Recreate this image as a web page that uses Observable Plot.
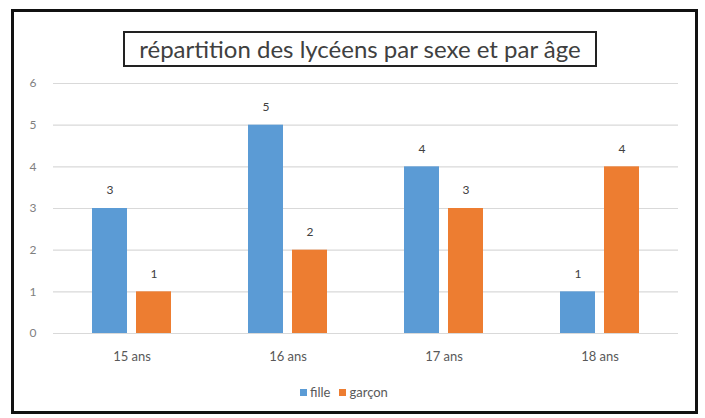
<!DOCTYPE html>
<html><head><meta charset="utf-8">
<script src="https://cdn.jsdelivr.net/npm/d3@7"></script>
<script src="https://cdn.jsdelivr.net/npm/@observablehq/plot@0.6"></script>
<style>
body{margin:0;background:#fff;font-family:Lato,sans-serif;}
#frame{position:absolute;left:11px;top:9px;width:687px;height:405px;border:3px solid #111;box-sizing:border-box;}
#title{position:absolute;left:123px;top:31px;width:474px;height:36px;border:2px solid #222;box-sizing:border-box;text-align:center;font-size:24px;line-height:31px;color:#404040;white-space:nowrap;}
#chart{position:absolute;left:0;top:70px;}
#legend{position:absolute;top:384px;left:300px;display:flex;align-items:center;font-size:13px;color:#595959;}
#legend .sw{display:inline-block;width:7px;height:7px;margin-right:3px;}
#legend .it{display:flex;align-items:center;margin-right:9px;}
</style>
</head><body>
<div id="frame"></div>
<div id="title">répartition des lycéens par sexe et par âge</div>
<div id="chart"></div>
<div id="legend"></div>
<script>
const ages = ["15 ans","16 ans","17 ans","18 ans"];
const fille = [3,5,4,1];
const garcon = [1,2,3,4];
const series = ["fille","garçon"];
const colors = ["#5B9BD5","#ED7D31"];
const yTicks = [0,1,2,3,4,5,6];

const rowsF = ages.map((a,i)=>({age:a, sexe:series[0], v:fille[i]}));
const rowsG = ages.map((a,i)=>({age:a, sexe:series[1], v:garcon[i]}));

const chart = Plot.plot({
  width:705, height:300,
  marginLeft:53, marginRight:27, marginTop:13, marginBottom:37,
  style:{fontFamily:"Lato, sans-serif", fontSize:"13px", color:"#595959", background:"transparent"},
  x:{domain:ages, paddingInner:0.776, paddingOuter:0.388, label:null},
  y:{domain:[0,6], label:null},
  color:{domain:series, range:colors},
  marks:[
    Plot.gridY(yTicks,{stroke:"#d9d9d9", strokeOpacity:1, strokeWidth:1.2}),
    Plot.axisY(yTicks,{tickSize:0, tickPadding:17, fill:"#7f7f7f", label:null, fontSize:12}),
    Plot.axisX({tickSize:0, tickPadding:18, fill:"#595959", label:null, fontSize:13}),
    Plot.barY(rowsF,{x:"age", y:"v", fill:"sexe", dx:-22}),
    Plot.barY(rowsG,{x:"age", y:"v", fill:"sexe", dx:22}),
    Plot.text(rowsF,{x:"age", y:"v", text:"v", dx:-22, dy:-18, fill:"#404040", fontSize:12}),
    Plot.text(rowsG,{x:"age", y:"v", text:"v", dx:22, dy:-18, fill:"#404040", fontSize:12})
  ]
});
document.getElementById("chart").appendChild(chart);

const leg = document.getElementById("legend");
series.forEach((s,i)=>{
  const it = document.createElement("span"); it.className="it";
  const sw = document.createElement("span"); sw.className="sw"; sw.style.background=colors[i];
  it.appendChild(sw); it.appendChild(document.createTextNode(s));
  leg.appendChild(it);
});
</script>
</body></html>
